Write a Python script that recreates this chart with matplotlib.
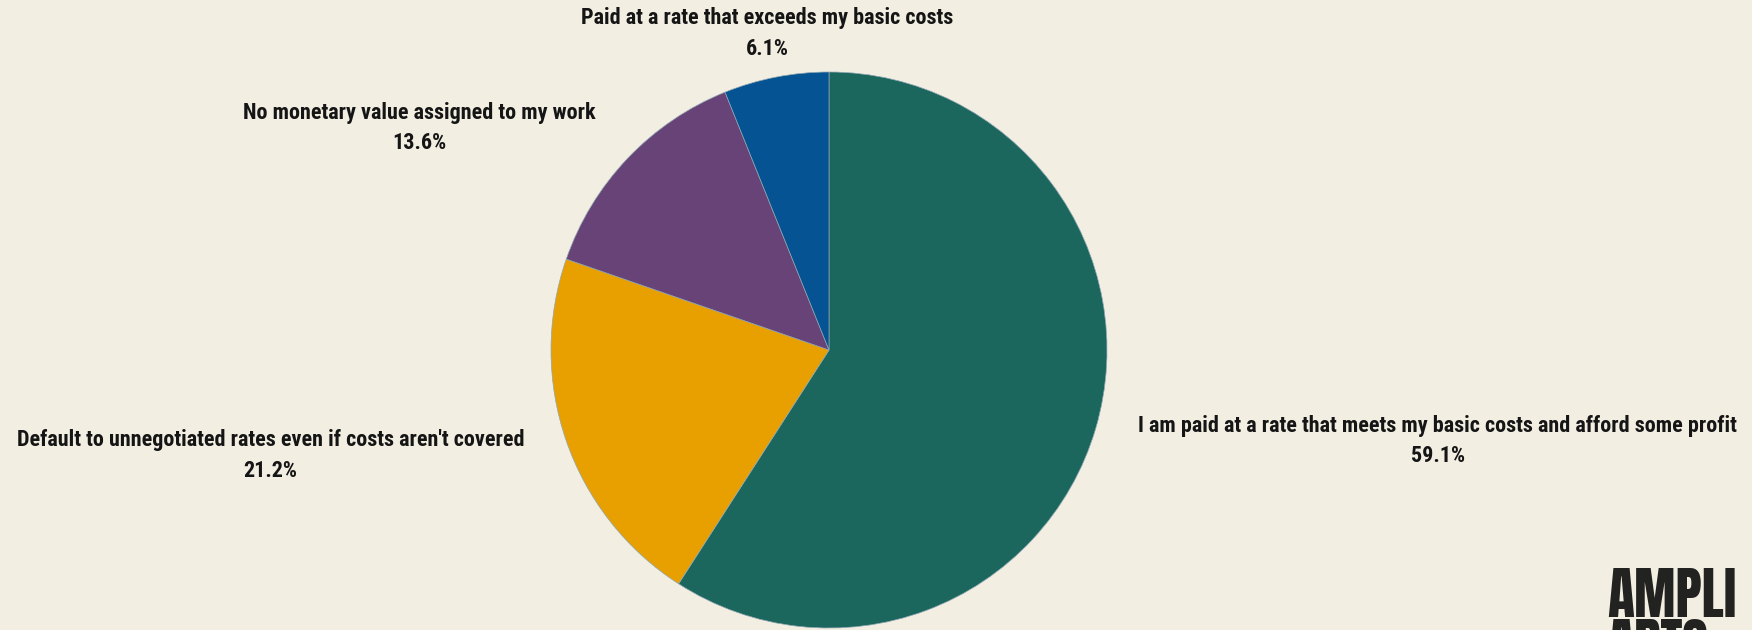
import matplotlib.pyplot as plt
import numpy as np

# Survey shares, clockwise from 12 o'clock
labels = [
    "I am paid at a rate that meets my basic costs and afford some profit",
    "Default to unnegotiated rates even if costs aren't covered",
    "No monetary value assigned to my work",
    "Paid at a rate that exceeds my basic costs",
]
shares = [59.1, 21.2, 13.6, 6.1]
colors = ["#1b665d", "#e8a000", "#674377", "#055392"]

BG = "#f2eee2"
INK = "#151515"
W, H = 1752, 630
CX, CY, R = 829, 350, 278  # pie centre / radius in pixels

plt.rcParams["font.family"] = ["Roboto Condensed", "DejaVu Sans"]

fig = plt.figure(figsize=(W / 100, H / 100), dpi=100, facecolor=BG)
ax = fig.add_axes([0, 0, 1, 1])
ax.set_facecolor(BG)

wedges, _ = ax.pie(
    shares,
    colors=colors,
    startangle=90,
    counterclock=False,
    radius=1.0,
    wedgeprops=dict(edgecolor="#8fa6b3", linewidth=0.5),
    frame=True,
)
ax.set_xlim(-CX / R, (W - CX) / R)
ax.set_ylim(-(H - CY) / R, CY / R)
ax.set_aspect("auto")
ax.axis("off")

for w, lab, val in zip(wedges, labels, shares):
    mid = np.deg2rad((w.theta1 + w.theta2) / 2)
    dist = 1.16
    x, y = dist * np.cos(mid), dist * np.sin(mid)
    if abs(np.cos(mid)) < 0.3:
        ha = "center"
    else:
        ha = "left" if x > 0 else "right"
    ax.text(x, y, f"{lab}\n{val:.1f}%", ha=ha, va="center",
            multialignment="center", fontsize=15.9, fontweight="bold",
            color=INK, linespacing=1.5)

# brand mark in the corner, cut off by the lower edge
fig.text(1607 / W, 1 - 617 / H, "AMPLI", family="Anton", fontsize=40,
         color="#222220", ha="left", va="baseline")
fig.text(1607 / W, 1 - 668 / H, "ARTS", family="Anton", fontsize=40,
         color="#222220", ha="left", va="baseline")

fig.savefig("out.png", dpi=100, facecolor=BG)
